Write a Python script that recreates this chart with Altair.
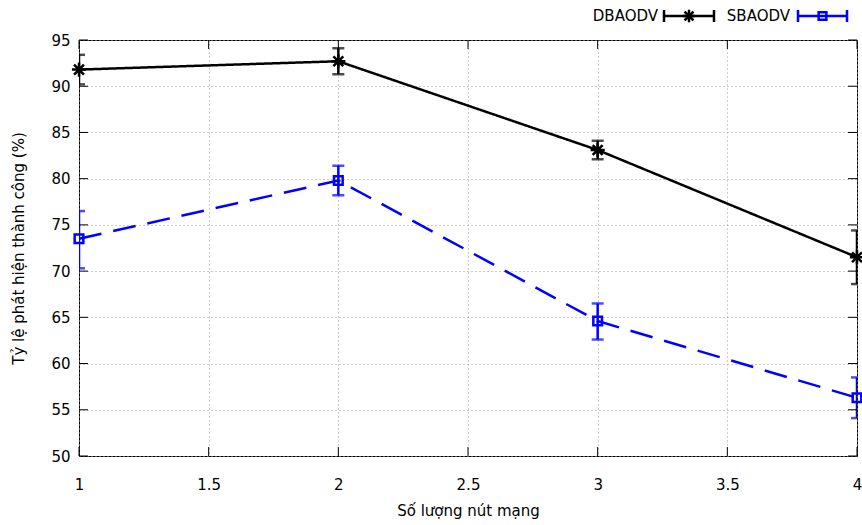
import altair as alt
import pandas as pd

# ---- data ----
x_nodes = [1, 2, 3, 4]
series_names = ["DBAODV", "SBAODV"]
dbaodv = [91.8, 92.7, 83.1, 71.5]
dbaodv_lo = [90.2, 91.3, 82.1, 68.6]
dbaodv_hi = [93.4, 94.1, 84.1, 74.4]
sbaodv = [73.5, 79.8, 64.6, 56.3]
sbaodv_lo = [70.3, 78.2, 62.6, 54.1]
sbaodv_hi = [76.5, 81.4, 66.5, 58.5]

x_ticks = [1, 1.5, 2, 2.5, 3, 3.5, 4]
y_ticks = [50, 55, 60, 65, 70, 75, 80, 85, 90, 95]

colors = ["#000000", "#0000ff"]
STAR = "M-1,0L1,0M0,-1L0,1M-0.7,-0.7L0.7,0.7M-0.7,0.7L0.7,-0.7"

W, H = 778, 416
FONT = "DejaVu Sans"
FS = 15

rows = []
for name, vals, lo, hi in [("DBAODV", dbaodv, dbaodv_lo, dbaodv_hi),
                           ("SBAODV", sbaodv, sbaodv_lo, sbaodv_hi)]:
    for xv, v, l, h in zip(x_nodes, vals, lo, hi):
        rows.append({"x": xv, "y": v, "lo": l, "hi": h, "series": name})
df = pd.DataFrame(rows)

xscale = alt.Scale(domain=[1, 4], nice=False, zero=False)
yscale = alt.Scale(domain=[50, 95], nice=False, zero=False)
color = alt.Color("series:N", scale=alt.Scale(domain=series_names, range=colors), legend=None)
dash = alt.StrokeDash("series:N", scale=alt.Scale(domain=series_names, range=[[1, 0], [23, 12]]), legend=None)
shape = alt.Shape("series:N", scale=alt.Scale(domain=series_names, range=[STAR, "square"]), legend=None)
size = alt.Size("series:N", scale=alt.Scale(domain=series_names, range=[200, 75]), legend=None)

X = alt.X("x:Q", scale=xscale,
          axis=alt.Axis(values=x_ticks, labelExpr="datum.value", title="Số lượng nút mạng",
                        grid=True, gridDash=[1, 3], gridColor="#9a9a9a", domain=False, ticks=False,
                        labelPadding=21, titlePadding=11, labelFlush=False,
                        labelFont=FONT, titleFont=FONT, labelFontSize=FS, titleFontSize=FS,
                        labelColor="#000", titleColor="#000", titleFontWeight="normal"))
Y = alt.Y("y:Q", scale=yscale,
          axis=alt.Axis(values=y_ticks, format="d", title="Tỷ lệ phát hiện thành công (%)",
                        grid=True, gridDash=[1, 3], gridColor="#9a9a9a", domain=False, ticks=False,
                        labelPadding=9, titlePadding=24,
                        labelFont=FONT, titleFont=FONT, labelFontSize=FS, titleFontSize=FS,
                        labelColor="#000", titleColor="#000", titleFontWeight="normal"))

base = alt.Chart(df)

lines = base.mark_line(strokeWidth=2.5).encode(x=X, y=Y, color=color, strokeDash=dash)
err = base.mark_rule(strokeWidth=2.5, clip=True).encode(
    x=alt.X("x:Q", scale=xscale), y=alt.Y("lo:Q", scale=yscale), y2="hi:Q", color=color)
cap_hi = base.mark_tick(orient="horizontal", size=12, thickness=2.5, clip=True).encode(
    x=alt.X("x:Q", scale=xscale), y=alt.Y("hi:Q", scale=yscale), color=color)
cap_lo = base.mark_tick(orient="horizontal", size=12, thickness=2.5, clip=True).encode(
    x=alt.X("x:Q", scale=xscale), y=alt.Y("lo:Q", scale=yscale), color=color)
pts = base.mark_point(filled=False, strokeWidth=2.5, opacity=1).encode(
    x=alt.X("x:Q", scale=xscale), y=alt.Y("y:Q", scale=yscale), color=color, shape=shape, size=size)

# inward ticks on all four sides
yt = alt.Chart(pd.DataFrame({"v": y_ticks}))
xt = alt.Chart(pd.DataFrame({"v": x_ticks}))
ytick_l = yt.mark_rule(color="black", strokeWidth=1).encode(
    y=alt.Y("v:Q", scale=yscale), x=alt.value(0), x2=alt.value(9))
ytick_r = yt.mark_rule(color="black", strokeWidth=1).encode(
    y=alt.Y("v:Q", scale=yscale), x=alt.value(W - 9), x2=alt.value(W))
xtick_b = xt.mark_rule(color="black", strokeWidth=1).encode(
    x=alt.X("v:Q", scale=xscale), y=alt.value(H - 9), y2=alt.value(H))
xtick_t = xt.mark_rule(color="black", strokeWidth=1).encode(
    x=alt.X("v:Q", scale=xscale), y=alt.value(0), y2=alt.value(9))

# manual legend (gnuplot style: label then sample)
one = alt.Data(values=[{"k": 0}])
leg_layers = []
legend_pos = [(579, 585, 635), (711, 719, 768)]
for name, col, (tx, x0, x1), sh, sz in zip(series_names, colors, legend_pos, [STAR, "square"], [160, 60]):
    ly = -24
    leg_layers.append(alt.Chart(one).mark_text(text=name, align="right", baseline="middle",
                                               font=FONT, fontSize=FS, color="#000").encode(
        x=alt.value(tx), y=alt.value(ly)))
    leg_layers.append(alt.Chart(one).mark_rule(color=col, strokeWidth=2.5).encode(
        x=alt.value(x0), x2=alt.value(x1), y=alt.value(ly)))
    for xx in (x0, x1):
        leg_layers.append(alt.Chart(one).mark_rule(color=col, strokeWidth=2.5).encode(
            x=alt.value(xx), y=alt.value(ly - 6), y2=alt.value(ly + 6)))
    leg_layers.append(alt.Chart(one).mark_point(shape=sh, filled=False, strokeWidth=2.5, size=sz,
                                                color=col, opacity=1).encode(
        x=alt.value((x0 + x1) / 2), y=alt.value(ly)))

chart = alt.layer(lines, err, cap_hi, cap_lo, pts, ytick_l, ytick_r, xtick_b, xtick_t,
                  *leg_layers).properties(
    width=W, height=H,
    autosize=alt.AutoSizeParams(type="none"),
    padding={"left": 79, "top": 40, "right": 5, "bottom": 69},
    background="white",
).configure_view(stroke="black", strokeWidth=1)

chart.save("out.html", embed_options={"renderer": "svg", "actions": False})
